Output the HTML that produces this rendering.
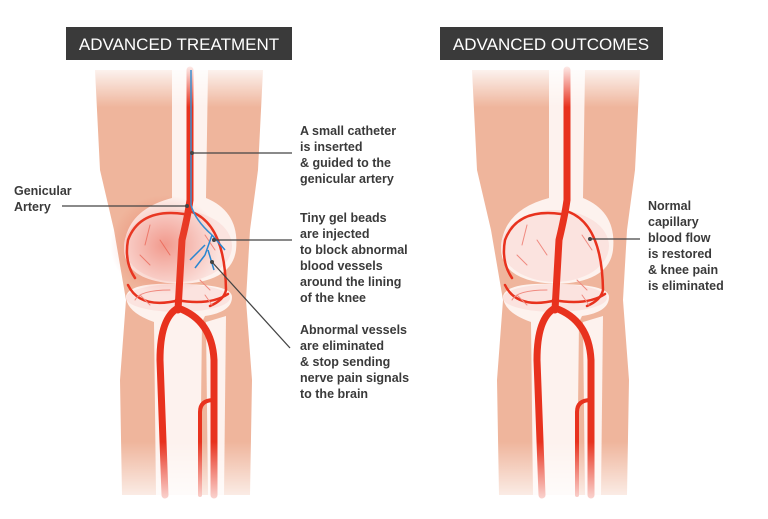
<!DOCTYPE html>
<html><head><style>
body{margin:0;background:#fff;width:768px;height:514px;overflow:hidden;font-family:"Liberation Sans",sans-serif}
</style></head><body>
<svg width="768" height="514" viewBox="0 0 768 514" xmlns="http://www.w3.org/2000/svg">
<defs>
<linearGradient id="fadeT" x1="0" y1="0" x2="0" y2="1">
<stop offset="0" stop-color="#fff" stop-opacity="1"/><stop offset="0.1" stop-color="#fff" stop-opacity="0"/>
<stop offset="0.84" stop-color="#fff" stop-opacity="0"/><stop offset="1" stop-color="#fff" stop-opacity="1"/>
</linearGradient>
<radialGradient id="glow" cx="0.5" cy="0.5" r="0.5">
<stop offset="0" stop-color="#e8503a" stop-opacity="0.5"/><stop offset="1" stop-color="#e8503a" stop-opacity="0"/>
</radialGradient>
<g id="leg">
<path d="M95,70 L263,70 L258,170 L250,230 L246,300 L252,380 L250,495 L122,495 L120,380 L126,300 L114,230 L100,170 Z" fill="#efb59c"/>
<path d="M172,70 L208,70 L206,198 Q240,212 236,250 Q232,282 180,284 Q124,282 124,248 Q126,210 172,198 Z" fill="#fdf2ee"/>
<ellipse cx="178" cy="246" rx="54" ry="36" fill="#fbe3df"/>
<path d="M126,296 Q130,282 178,284 Q232,284 232,297 Q232,312 205,316 L202,322 L200,495 L156,495 L154,322 Q126,312 126,296 Z" fill="#fdf2ee"/>
<path d="M206,322 L226,316 L224,495 L208,495 Z" fill="#fdf2ee"/>
<ellipse cx="178" cy="298" rx="52" ry="14" fill="#fbe3df"/>
<g fill="none" stroke="#e8321e" stroke-linecap="round">
<path d="M190,70 L190,200 Q188,215 182,240 L178,310" stroke-width="7"/>
<path d="M178,308 Q160,318 160,360 L165,495" stroke-width="7"/>
<path d="M178,308 Q212,320 214,360 L214,495" stroke-width="7"/>
<path d="M214,400 Q200,400 200,412 L200,495" stroke-width="4"/>
<path d="M184,214 Q140,208 128,240 Q124,262 135,278" stroke-width="2.5"/>
<path d="M192,212 Q225,225 226,290 Q224,300 210,306" stroke-width="2.5"/>
<path d="M180,300 Q140,310 128,285" stroke-width="2.5"/>
<path d="M176,300 Q210,306 228,294" stroke-width="2.5"/>
<path d="M170,290 Q140,290 135,300" stroke-width="1" stroke="#f08a80"/>
<path d="M150,225 L145,245 M140,255 L150,265 M205,235 L215,250 M200,280 L210,290 M160,240 L170,255 M140,295 L150,305 M205,295 L212,305" stroke-width="1" stroke="#f08a80"/>
</g>
</g>
</defs>

<use href="#leg"/>
<ellipse cx="165" cy="245" rx="55" ry="50" fill="url(#glow)"/>
<use href="#leg" transform="translate(377,0)"/>
<rect x="0" y="62" width="768" height="452" fill="url(#fadeT)"/>

<path d="M191,70 L191,205 Q195,220 212,235" fill="none" stroke="#3a8fd0" stroke-width="1.5"/>
<g stroke="#2a86d0" stroke-width="1.5" fill="none">
<path d="M212,235 L205,255 M212,235 L225,250 M205,245 L190,260 M205,255 L195,268 M208,250 L214,270"/>
</g>

<rect x="66" y="27" width="226" height="33" fill="#3a3a3a"/>
<text x="179" y="50" fill="#fff" font-size="17" text-anchor="middle">ADVANCED TREATMENT</text>
<rect x="440" y="27" width="223" height="33" fill="#3a3a3a"/>
<text x="551" y="50" fill="#fff" font-size="17" text-anchor="middle">ADVANCED OUTCOMES</text>

<g stroke="#444" stroke-width="1.3" fill="none">
<line x1="192" y1="153" x2="292" y2="153"/>
<line x1="62" y1="206" x2="187" y2="206"/>
<line x1="214" y1="240" x2="292" y2="240"/>
<line x1="212" y1="262" x2="290" y2="348"/>
<line x1="590" y1="239" x2="640" y2="239"/>
</g>
<g fill="#444"><circle cx="192" cy="153" r="2"/><circle cx="187" cy="206" r="2"/><circle cx="214" cy="240" r="2"/><circle cx="212" cy="262" r="2"/><circle cx="590" cy="239" r="2"/></g>

<g fill="#3a3a3a" font-size="12.5" font-weight="bold">
<text x="300" y="135">A small catheter</text>
<text x="300" y="151">is inserted</text>
<text x="300" y="167">&amp; guided to the</text>
<text x="300" y="183">genicular artery</text>
<text x="14" y="195">Genicular</text>
<text x="14" y="211">Artery</text>
<text x="300" y="222">Tiny gel beads</text>
<text x="300" y="238">are injected</text>
<text x="300" y="254">to block abnormal</text>
<text x="300" y="270">blood vessels</text>
<text x="300" y="286">around the lining</text>
<text x="300" y="302">of the knee</text>
<text x="300" y="334">Abnormal vessels</text>
<text x="300" y="350">are eliminated</text>
<text x="300" y="366">&amp; stop sending</text>
<text x="300" y="382">nerve pain signals</text>
<text x="300" y="398">to the brain</text>
<text x="648" y="210">Normal</text>
<text x="648" y="226">capillary</text>
<text x="648" y="242">blood flow</text>
<text x="648" y="258">is restored</text>
<text x="648" y="274">&amp; knee pain</text>
<text x="648" y="290">is eliminated</text>
</g>
</svg>
</body></html>
